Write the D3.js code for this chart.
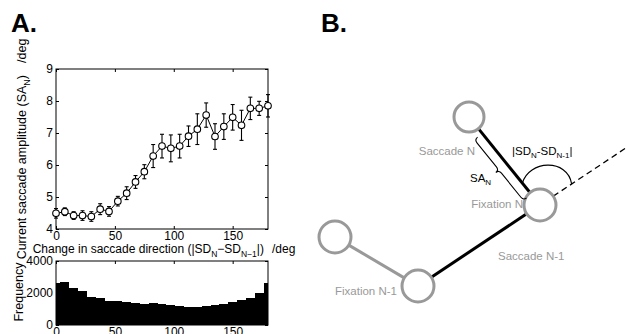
<!DOCTYPE html>
<html>
<head>
<meta charset="utf-8">
<script src="https://cdn.jsdelivr.net/npm/d3@7"></script>
<style>
  body { margin: 0; background: #fff; }
  svg { display: block; }
</style>
</head>
<body>
<script>
const width = 627;
const height = 334;
const font = "'Liberation Sans', Arial, Helvetica, sans-serif";

// change in saccade direction (bin centres), deg
const changeDeg = [0, 7.5, 15, 22.5, 30, 37.5, 45, 52.5, 60, 67.5, 75, 82.5, 90,
  97.5, 105, 112.5, 120, 127.5, 135, 142.5, 150, 157.5, 165, 172.5, 180];
// current saccade amplitude, deg (mean and error)
const amplitude = [4.49, 4.54, 4.42, 4.42, 4.39, 4.62, 4.55, 4.87, 5.12, 5.47, 5.79, 6.28, 6.59,
  6.52, 6.59, 6.9, 7.12, 7.56, 6.89, 7.2, 7.49, 7.24, 7.77, 7.77, 7.85];
const amplitudeErr = [0.15, 0.12, 0.12, 0.15, 0.15, 0.17, 0.15, 0.15, 0.2, 0.2, 0.22, 0.36, 0.37,
  0.42, 0.37, 0.32, 0.48, 0.38, 0.4, 0.4, 0.4, 0.47, 0.35, 0.22, 0.35];
// frequency per bin
const frequency = [2600, 2670, 2300, 2100, 1780, 1670, 1520, 1500, 1460, 1400, 1300, 1350, 1300,
  1260, 1200, 1150, 1150, 1190, 1230, 1300, 1450, 1560, 1670, 1980, 2600];

const xTicks = [0, 50, 100, 150];
const ampTicks = [4, 5, 6, 7, 8, 9];
const freqTicks = [0, 2000, 4000];

const svg = d3.select("body")
  .append("svg")
  .attr("width", width)
  .attr("height", height)
  .attr("font-family", font);

// ---- panel A ----
const x = d3.scaleLinear().domain([0, 180]).range([56, 268]);
const yAmp = d3.scaleLinear().domain([4, 9]).range([229, 69]);
const yFreq = d3.scaleLinear().domain([0, 4000]).range([325, 261]);
const fmt = d3.format("d");

svg.append("text")
  .attr("x", 11).attr("y", 32)
  .attr("font-size", 26).attr("font-weight", "bold")
  .text("A.");

function boxAxes(g, y, yTicks) {
  const [x0, x1] = x.range();
  const [yb, yt] = y.range();

  const styleAxis = sel => {
    sel.attr("font-family", font).attr("font-size", 12);
    sel.select(".domain").remove();
    sel.selectAll(".tick line").attr("stroke", "#000");
  };

  g.append("g")
    .attr("transform", `translate(0,${yb})`)
    .call(d3.axisBottom(x).tickValues(xTicks).tickFormat(fmt)
      .tickSizeInner(-3).tickSizeOuter(0).tickPadding(2))
    .call(styleAxis);
  g.append("g")
    .attr("transform", `translate(0,${yt})`)
    .call(d3.axisTop(x).tickValues(xTicks).tickSize(-3).tickFormat(""))
    .call(styleAxis);
  g.append("g")
    .attr("transform", `translate(${x0},0)`)
    .call(d3.axisLeft(y).tickValues(yTicks).tickFormat(fmt)
      .tickSizeInner(-3).tickSizeOuter(0).tickPadding(3))
    .call(styleAxis);
  g.append("g")
    .attr("transform", `translate(${x1},0)`)
    .call(d3.axisRight(y).tickValues(yTicks).tickSize(-3).tickFormat(""))
    .call(styleAxis);

  g.append("rect")
    .attr("x", x0).attr("y", yt)
    .attr("width", x1 - x0).attr("height", yb - yt)
    .attr("fill", "none")
    .attr("stroke", "#000");
}

// histogram
const hist = svg.append("g");
const halfBin = (changeDeg[1] - changeDeg[0]) / 2;
hist.append("g")
  .selectAll("rect")
  .data(changeDeg)
  .join("rect")
  .attr("x", d => x(Math.max(0, d - halfBin)))
  .attr("width", d => x(Math.min(180, d + halfBin)) - x(Math.max(0, d - halfBin)))
  .attr("y", (d, i) => yFreq(frequency[i]))
  .attr("height", (d, i) => yFreq(0) - yFreq(frequency[i]))
  .attr("fill", "#000")
  .attr("shape-rendering", "crispEdges");
boxAxes(hist, yFreq, freqTicks);

hist.append("text")
  .attr("transform", `translate(23,${(yFreq(0) + yFreq(4000)) / 2 - 1}) rotate(-90)`)
  .attr("text-anchor", "middle")
  .attr("font-size", 12.5)
  .text("Frequency");

// amplitude plot
const ampPlot = svg.append("g");
boxAxes(ampPlot, yAmp, ampTicks);

const line = d3.line()
  .x((d, i) => x(changeDeg[i]))
  .y(d => yAmp(d));

ampPlot.append("path")
  .datum(amplitude)
  .attr("d", line)
  .attr("fill", "none")
  .attr("stroke", "#000")
  .attr("stroke-width", 1);

const err = ampPlot.append("g")
  .attr("stroke", "#000")
  .attr("stroke-width", 1.1)
  .selectAll("g")
  .data(changeDeg)
  .join("g");
err.append("line")
  .attr("x1", d => x(d)).attr("x2", d => x(d))
  .attr("y1", (d, i) => yAmp(amplitude[i] - amplitudeErr[i]))
  .attr("y2", (d, i) => yAmp(amplitude[i] + amplitudeErr[i]));
err.append("line")
  .attr("x1", d => x(d) - 2).attr("x2", d => x(d) + 2)
  .attr("y1", (d, i) => yAmp(amplitude[i] - amplitudeErr[i]))
  .attr("y2", (d, i) => yAmp(amplitude[i] - amplitudeErr[i]));
err.append("line")
  .attr("x1", d => x(d) - 2).attr("x2", d => x(d) + 2)
  .attr("y1", (d, i) => yAmp(amplitude[i] + amplitudeErr[i]))
  .attr("y2", (d, i) => yAmp(amplitude[i] + amplitudeErr[i]));

ampPlot.append("g")
  .selectAll("circle")
  .data(changeDeg)
  .join("circle")
  .attr("cx", d => x(d))
  .attr("cy", (d, i) => yAmp(amplitude[i]))
  .attr("r", 3.3)
  .attr("fill", "#fff")
  .attr("stroke", "#000")
  .attr("stroke-width", 1.1);

// axis titles with subscripts
const xTitle = svg.append("text")
  .attr("x", (x.range()[0] + x.range()[1]) / 2 + 2)
  .attr("y", 253)
  .attr("text-anchor", "middle")
  .attr("font-size", 12);
xTitle.append("tspan").text("Change in saccade direction (|SD");
xTitle.append("tspan").attr("dy", 3.5).attr("font-size", 8.5).text("N");
xTitle.append("tspan").attr("dy", -3.5).text("\u2212SD");
xTitle.append("tspan").attr("dy", 3.5).attr("font-size", 8.5).text("N\u22121");
xTitle.append("tspan").attr("dy", -3.5).text("|)");
xTitle.append("tspan").attr("dx", 8).text("/deg");

const yTitle = svg.append("text")
  .attr("transform", `translate(26,${(yAmp(4) + yAmp(9)) / 2}) rotate(-90)`)
  .attr("text-anchor", "middle")
  .attr("font-size", 12.5);
yTitle.append("tspan").text("Current saccade amplitude (SA");
yTitle.append("tspan").attr("dy", 3.5).attr("font-size", 9).text("N");
yTitle.append("tspan").attr("dy", -3.5).text(")");
yTitle.append("tspan").attr("dx", 12).text("/deg");

// ---- panel B: schematic ----
svg.append("text")
  .attr("x", 321).attr("y", 32)
  .attr("font-size", 26).attr("font-weight", "bold")
  .text("B.");

const gray = "#999";
const fixations = [
  { name: "N-2", cx: 335, cy: 237, r: 16 },
  { name: "N-1", cx: 418, cy: 286, r: 16 },
  { name: "N", cx: 540, cy: 205, r: 16 },
  { name: "N+1", cx: 469, cy: 117, r: 15 }
];
const saccades = [
  { from: 0, to: 1, color: gray },
  { from: 1, to: 2, color: "#000" },
  { from: 2, to: 3, color: "#000" }
];

const diag = svg.append("g");

function unit(a, b) {
  const dx = b.cx - a.cx, dy = b.cy - a.cy, len = Math.hypot(dx, dy);
  return [dx / len, dy / len, len];
}

diag.append("g")
  .selectAll("line")
  .data(saccades)
  .join("line")
  .each(function (s) {
    const a = fixations[s.from], b = fixations[s.to];
    const [ux, uy] = unit(a, b);
    d3.select(this)
      .attr("x1", a.cx + ux * a.r).attr("y1", a.cy + uy * a.r)
      .attr("x2", b.cx - ux * b.r).attr("y2", b.cy - uy * b.r);
  })
  .attr("stroke", s => s.color)
  .attr("stroke-width", 3);

// continuation of saccade N-1 (dashed)
const fN = fixations[2], fPrev = fixations[1], fNext = fixations[3];
const [dx, dy] = unit(fPrev, fN);
diag.append("line")
  .attr("x1", fN.cx + dx * fN.r).attr("y1", fN.cy + dy * fN.r)
  .attr("x2", fN.cx + dx * 130).attr("y2", fN.cy + dy * 130)
  .attr("stroke", "#000")
  .attr("stroke-width", 1.3)
  .attr("stroke-dasharray", "6,4");

diag.append("g")
  .selectAll("circle")
  .data(fixations)
  .join("circle")
  .attr("cx", d => d.cx)
  .attr("cy", d => d.cy)
  .attr("r", d => d.r)
  .attr("fill", "#fff")
  .attr("stroke", gray)
  .attr("stroke-width", 3);

// angle arc between saccade N and the continuation of saccade N-1
const [nx, ny] = unit(fN, fNext);
const s0 = [fN.cx + nx * 28, fN.cy + ny * 28];
const e0 = [fN.cx + dx * 38, fN.cy + dy * 38];
diag.append("path")
  .attr("d", `M${s0}C${s0[0] + 6},${s0[1] - 23} ${e0[0] - 4},${e0[1] - 26} ${e0}`)
  .attr("fill", "none")
  .attr("stroke", "#000")
  .attr("stroke-width", 1.2);

// brace along saccade N
const px = -ny, py = nx;
const perp = px < 0 ? [px, py] : [-px, -py]; // normal pointing lower-left
const P = (u, v) => [fN.cx + nx * u + perp[0] * v, fN.cy + ny * u + perp[1] * v];
const t0 = 14, t1 = 92, tm = (t0 + t1) / 2;
diag.append("path")
  .attr("d", `M${P(t0, 6)}Q${P(t0, 10)} ${P(t0 + 4, 10)}L${P(tm - 4, 10)}Q${P(tm, 10)} ${P(tm, 14)}` +
    `Q${P(tm, 10)} ${P(tm + 4, 10)}L${P(t1 - 4, 10)}Q${P(t1, 10)} ${P(t1, 6)}`)
  .attr("fill", "none")
  .attr("stroke", "#000")
  .attr("stroke-width", 1.1);

// labels
const labels = [
  { text: "Saccade N", x: 475, y: 155, anchor: "end" },
  { text: "Fixation N", x: 523, y: 208, anchor: "end" },
  { text: "Saccade N-1", x: 498, y: 260, anchor: "start" },
  { text: "Fixation N-1", x: 335, y: 295, anchor: "start" }
];
diag.append("g")
  .selectAll("text")
  .data(labels)
  .join("text")
  .attr("x", d => d.x)
  .attr("y", d => d.y)
  .attr("text-anchor", d => d.anchor)
  .attr("font-size", 11.5)
  .attr("fill", gray)
  .text(d => d.text);

const sa = diag.append("text").attr("x", 470).attr("y", 181.5).attr("font-size", 11.5);
sa.append("tspan").text("SA");
sa.append("tspan").attr("dy", 3).attr("font-size", 8).text("N");

const sd = diag.append("text").attr("x", 512).attr("y", 155).attr("font-size", 11.5);
sd.append("tspan").text("|SD");
sd.append("tspan").attr("dy", 3).attr("font-size", 8).text("N");
sd.append("tspan").attr("dy", -3).text("-SD");
sd.append("tspan").attr("dy", 3).attr("font-size", 8).text("N-1");
sd.append("tspan").attr("dy", -3).text("|");
</script>
</body>
</html>
